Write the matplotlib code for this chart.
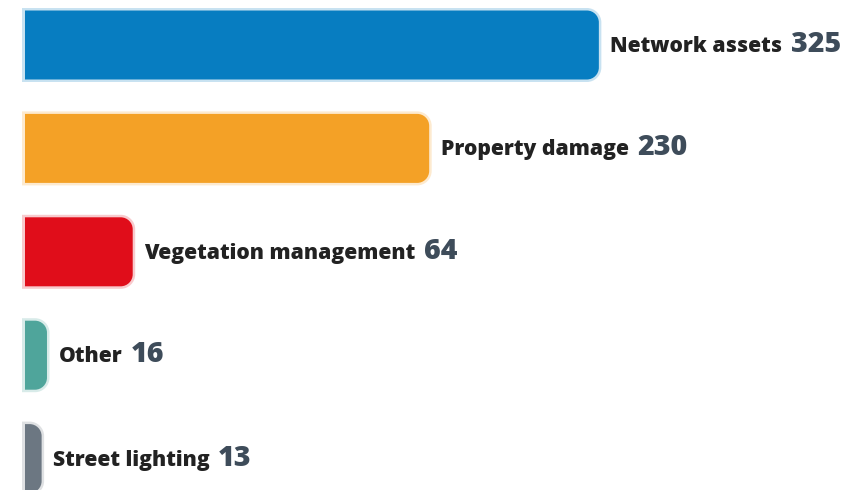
#!/usr/bin/env python3
"""
Horizontal bar chart: incident causes (rounded right ends, inline labels)
Saves out.png (842x490)
"""

import matplotlib.pyplot as plt
from matplotlib.path import Path
from matplotlib.patches import PathPatch, Rectangle
from matplotlib.colors import to_rgb

# ─── Data ────────────────────────────────────────────────────────────────────
categories = ['Network assets', 'Property damage', 'Vegetation management',
              'Other', 'Street lighting']
values = [325, 230, 64, 16, 13]
colors = ['#077dc1', '#f4a126', '#e00d1a', '#4fa59b', '#6c7782']

# ─── Layout config (pixels) ──────────────────────────────────────────────────
W, H, DPI = 842, 490, 100
ZERO_PX = 18.4        # where value 0 sits
PX_PER_UNIT = 1.786
FIRST_CENTER_PX = 45.0
PITCH_PX = 103.4
BAR_H_PX = 69.0
RADIUS_PX = 12.0
BORDER_PX = 2.5
FILL_LEFT_PX = 24.5

LABEL_COLOR = '#222222'
NUM_COLOR = '#3e4c5a'


def lighten(c, amount=0.78):
    r, g, b = to_rgb(c)
    return (r + (1 - r) * amount, g + (1 - g) * amount, b + (1 - b) * amount)


def bar_path(v, yc, h, rx, ry):
    """Bar from 0 to v, square left end, rounded right end."""
    k = 0.5523
    x1 = v
    y0, y1 = yc - h / 2, yc + h / 2
    rx = min(rx, v)
    verts = [
        (0, y0),
        (x1 - rx, y0),
        (x1 - rx + k * rx, y0), (x1, y0 + ry - k * ry), (x1, y0 + ry),
        (x1, y1 - ry),
        (x1, y1 - ry + k * ry), (x1 - rx + k * rx, y1), (x1 - rx, y1),
        (0, y1),
        (0, y0),
    ]
    codes = [Path.MOVETO, Path.LINETO,
             Path.CURVE4, Path.CURVE4, Path.CURVE4,
             Path.LINETO,
             Path.CURVE4, Path.CURVE4, Path.CURVE4,
             Path.LINETO, Path.CLOSEPOLY]
    return Path(verts, codes)


# ─── Plot ────────────────────────────────────────────────────────────────────
plt.rcParams['font.family'] = ['Open Sans', 'DejaVu Sans']

fig = plt.figure(figsize=(W / DPI, H / DPI), dpi=DPI)
ax = fig.add_axes([0, 0, 1, 1])
ax.set_axis_off()

ax.set_xlim(-ZERO_PX / PX_PER_UNIT, (W - ZERO_PX) / PX_PER_UNIT)
ax.set_ylim((H - FIRST_CENTER_PX) / PITCH_PX, -FIRST_CENTER_PX / PITCH_PX)

h = BAR_H_PX / PITCH_PX
rx = RADIUS_PX / PX_PER_UNIT
ry = RADIUS_PX / PITCH_PX

border_clip = Rectangle(((FILL_LEFT_PX - BORDER_PX) / W, 0), 1, 1,
                        transform=fig.transFigure)
fill_clip = Rectangle((FILL_LEFT_PX / W, 0), 1, 1, transform=fig.transFigure)

lw_pt = BORDER_PX * 2 * 72 / DPI

for i, (cat, v, c) in enumerate(zip(categories, values, colors)):
    p = bar_path(v, i, h, rx, ry)

    # light outline
    outline = PathPatch(p, facecolor=lighten(c), edgecolor=lighten(c),
                        linewidth=lw_pt, joinstyle='round')
    ax.add_patch(outline)
    outline.set_clip_path(border_clip)

    # coloured fill
    fill = PathPatch(p, facecolor=c, edgecolor='none')
    ax.add_patch(fill)
    fill.set_clip_path(fill_clip)

    # category label
    label = ax.annotate(cat, xy=(v, i), xytext=(8.3, -5),
                        textcoords='offset points', ha='left', va='baseline',
                        fontsize=15.2, fontweight='heavy', color=LABEL_COLOR)

    # value, placed right after the label
    ax.annotate(f'{v}', xy=(1, i), xycoords=(label, 'data'),
                xytext=(6, -5), textcoords='offset points',
                ha='left', va='baseline',
                fontsize=20.5, fontweight='heavy', color=NUM_COLOR)

fig.savefig('out.png', dpi=DPI)
plt.close()
